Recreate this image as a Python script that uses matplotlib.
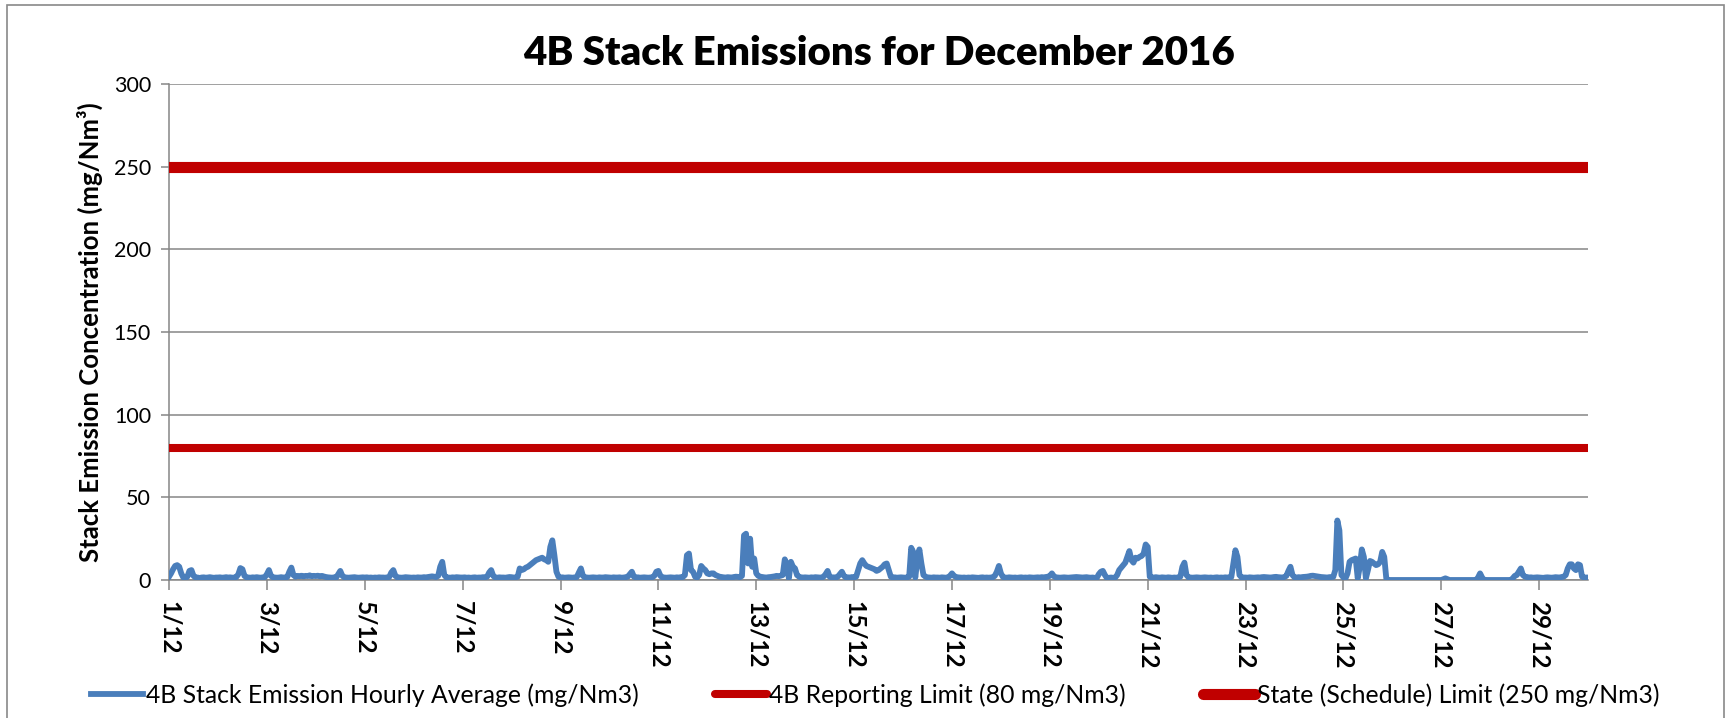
import numpy as np
import matplotlib
matplotlib.use("Agg")
import matplotlib.pyplot as plt
from matplotlib.patches import Rectangle

plt.rcParams['font.family'] = ['Lato', 'DejaVu Sans']

# hourly averages, one row per day (1/12 ... 29/12), then 30/12 00:00
emission_hourly = [
    2, 4, 6.5, 8.5, 9, 8, 4, 1.5, 1, 2, 5.5, 6, 2.5, 1.5, 1.5, 1.2, 1.5, 1.6, 1.4, 1.5, 1.7, 1.5, 1.3, 1.5,
    1.5, 1.6, 1.4, 1.5, 1.7, 1.5, 1.6, 1.4, 1.5, 1.8, 3.5, 7.2, 6.5, 2.5, 1.6, 1.5, 1.4, 1.6, 1.5, 1.7, 1.5, 1.4, 1.6, 1.8,
    3.5, 6, 2.5, 1.6, 1.5, 1.4, 1.5, 1.7, 1.5, 1.6, 1.8, 5, 7.5, 3, 2, 2.5, 2.3, 2.6, 2.2, 2.5, 2.4, 2.8, 2.3, 2.5,
    2.4, 2.6, 2.2, 2.5, 2.1, 1.8, 1.6, 1.5, 1.4, 1.6, 1.5, 3.5, 5.5, 2.5, 1.6, 1.5, 1.4, 1.5, 1.6, 1.7, 1.5, 1.4, 1.5, 1.6,
    1.5, 1.6, 1.4, 1.5, 1.3, 1.5, 1.4, 1.6, 1.5, 1.5, 1.4, 1.6, 1.8, 4.5, 6, 2.5, 1.6, 1.5, 1.4, 1.5, 1.7, 1.6, 1.5, 1.4,
    1.5, 1.4, 1.6, 1.5, 1.5, 1.7, 1.6, 1.8, 2, 2.2, 2, 1.8, 2.5, 8, 11, 3, 1.6, 1.5, 1.4, 1.6, 1.5, 1.7, 1.6, 1.5,
    1.5, 1.6, 1.4, 1.5, 1.3, 1.5, 1.6, 1.4, 1.5, 1.5, 1.7, 1.6, 2, 4.5, 6, 2.5, 1.5, 1.4, 1.6, 1.5, 1.5, 1.4, 1.6, 1.8,
    1.7, 1.5, 1.6, 2, 7, 6, 6.5, 7.5, 8, 9, 10, 11, 12, 12.5, 13, 13.5, 12.5, 12, 11, 20, 24, 15, 5, 2,
    1.5, 1.6, 1.4, 1.5, 1.6, 1.5, 1.4, 1.6, 1.8, 4.5, 7, 2.5, 1.6, 1.5, 1.4, 1.5, 1.6, 1.5, 1.4, 1.6, 1.5, 1.5, 1.7, 1.6,
    1.5, 1.4, 1.6, 1.5, 1.5, 1.6, 1.4, 1.5, 1.7, 2, 3.5, 5, 2, 1.5, 1.6, 1.4, 1.5, 1.6, 1.5, 1.4, 1.5, 1.6, 2.5, 5,
    5.5, 2.5, 1.6, 1.5, 1.4, 1.5, 1.6, 1.5, 1.4, 1.6, 1.5, 1.7, 1.8, 3, 15, 16, 6, 5, 2, 1.5, 3, 8.5, 7, 6,
    4, 3.5, 4, 4, 3, 2.5, 2, 1.8, 1.6, 1.5, 1.7, 1.6, 1.5, 1.8, 2, 1.9, 1.7, 2.5, 27, 28, 10, 25, 8, 13,
    4, 2.5, 2, 1.8, 1.6, 1.5, 1.7, 1.8, 2, 2.2, 2.5, 2.3, 2.6, 3, 12.5, 9, 1, 11, 8, 7, 3, 2, 1.6, 1.5,
    1.6, 1.5, 1.4, 1.6, 1.5, 1.7, 1.6, 1.5, 1.4, 2, 3.5, 5.5, 2, 1.5, 1.6, 1.4, 2, 3.5, 5, 2.5, 1.5, 1.6, 1.5, 1.8,
    1.5, 2, 6, 10, 12, 10, 8.5, 8, 7.5, 7, 6.5, 5.5, 6, 7, 8, 9.5, 10, 6, 2, 1.5, 1.6, 1.4, 1.5, 1.6,
    1.5, 1.4, 1.6, 2, 19.5, 17, 1.5, 12, 18.5, 10, 3, 2, 1.6, 1.5, 1.4, 1.6, 1.5, 1.5, 1.4, 1.6, 1.5, 1.4, 1.6, 2.5,
    4, 2.5, 1.8, 1.6, 1.5, 1.4, 1.5, 1.3, 1.5, 1.4, 1.6, 1.5, 1.4, 1.3, 1.5, 1.6, 1.4, 1.5, 1.4, 1.5, 1.6, 2.5, 5, 8.5,
    4, 1.8, 1.5, 1.4, 1.6, 1.5, 1.4, 1.5, 1.3, 1.5, 1.6, 1.4, 1.5, 1.4, 1.6, 1.5, 1.4, 1.5, 1.6, 1.5, 1.7, 1.6, 1.8, 2,
    2.5, 4, 2.2, 1.6, 1.5, 1.4, 1.5, 1.6, 1.5, 1.4, 1.5, 1.6, 1.7, 1.8, 1.7, 1.6, 1.5, 1.6, 1.7, 1.5, 1.4, 1.5, 1.3, 1.2,
    3.5, 5, 5.5, 3, 1.2, 1.3, 1.5, 1.3, 1.4, 3, 6, 7.5, 9, 10.5, 14, 17.5, 12, 10.5, 13.5, 13, 14, 14.5, 16, 21.5,
    20, 2, 1.6, 1.5, 1.7, 1.5, 1.4, 1.6, 1.5, 1.4, 1.6, 1.5, 1.3, 1.5, 1.4, 1.6, 2, 8, 10.5, 3, 1.6, 1.5, 1.4, 1.5,
    1.6, 1.5, 1.4, 1.5, 1.6, 1.5, 1.4, 1.5, 1.3, 1.5, 1.6, 1.4, 1.5, 1.4, 1.6, 1.5, 1.6, 1.8, 10, 18, 14, 3, 1.6, 1.5,
    1.5, 1.4, 1.6, 1.5, 1.4, 1.5, 1.6, 1.5, 1.7, 1.8, 1.7, 1.6, 1.5, 1.6, 1.8, 1.9, 1.7, 1.6, 1.5, 1.8, 2.5, 5.5, 8, 3,
    1.6, 1.5, 1.7, 1.6, 1.8, 1.9, 2, 2.2, 2.5, 2.6, 2.4, 2.2, 2, 1.8, 1.7, 1.6, 1.5, 1.7, 1.8, 1.9, 6, 36, 30, 3,
    1.5, 1, 4, 11, 12, 12.5, 13, 1, 8, 18.5, 14, 1, 6, 11.5, 11, 10, 9, 9.5, 11, 17, 14, 1, 0, 0,
    0, 0, 0, 0, 0, 0, 0, 0, 0, 0, 0, 0, 0, 0, 0, 0, 0, 0, 0, 0, 0, 0, 0, 0,
    0, 0.5, 1, 0.5, 0, 0, 0, 0, 0, 0, 0, 0, 0, 0, 0, 0, 0, 0, 1.5, 4, 1.5, 0, 0, 0,
    0, 0, 0, 0, 0, 0, 0, 0, 0, 0, 0, 1, 2.5, 3, 5, 7, 3, 2, 1.8, 1.5, 1.6, 1.4, 1.5, 1.6,
    1.5, 1.4, 1.3, 1.5, 1.6, 1.5, 1.4, 1.5, 1.7, 1.6, 1.5, 1.8, 2, 3, 7, 9.5, 9.5, 7, 6, 9.5, 9, 2, 1.5, 1.5,
    1.5,
]
reporting_limit = 80
state_limit = 250
tick_labels = ['1/12', '3/12', '5/12', '7/12', '9/12', '11/12', '13/12', '15/12',
               '17/12', '19/12', '21/12', '23/12', '25/12', '27/12', '29/12']

hours = np.arange(len(emission_hourly))

fig = plt.figure(figsize=(17.3, 7.18), dpi=100)
ax = fig.add_axes([0.0977, 0.1922, 0.8203, 0.6908])

grid_c = '#868686'
ax.plot(hours, emission_hourly, color='#4a7ebb', lw=4.2, solid_joinstyle='round',
        label='4B Stack Emission Hourly Average (mg/Nm3)', zorder=3)
ax.axhline(reporting_limit, color='#c00000', lw=5.8, solid_capstyle='round',
           label='4B Reporting Limit (80 mg/Nm3)', zorder=4)
ax.axhline(state_limit, color='#c00000', lw=8, solid_capstyle='round',
           label='State (Schedule) Limit (250 mg/Nm3)', zorder=4)

ax.set_xlim(0, len(emission_hourly) - 1)
ax.set_ylim(0, 300)
ax.set_yticks(range(0, 301, 50))
ax.set_xticks(hours[::48][:len(tick_labels)])
ax.set_xticklabels(tick_labels, rotation=270, fontweight='bold', fontsize=17.5, va='top', ha='center')
ax.tick_params(axis='y', labelsize=15.5, direction='out', length=6, width=1.1, color=grid_c, pad=7)
ax.tick_params(axis='x', direction='out', length=7, width=1.1, color=grid_c, pad=8)
ax.yaxis.grid(True, color=grid_c, lw=1.1)
ax.set_axisbelow(True)
for s in ['top', 'right']:
    ax.spines[s].set_visible(False)
for s in ['left', 'bottom']:
    ax.spines[s].set_color(grid_c)
    ax.spines[s].set_linewidth(1.1)

ax.set_title('4B Stack Emissions for December 2016', fontsize=29, fontweight='heavy', pad=14)
ax.set_ylabel('Stack Emission Concentration (mg/Nm³)', fontsize=18.5, fontweight='bold', labelpad=8)

fig.legend(loc='center', bbox_to_anchor=(0.506, 0.032), ncol=3, frameon=False, fontsize=17.8,
           handlelength=2.1, handletextpad=0.1, columnspacing=3.1)

fig.patches.append(Rectangle((7 / 1730, -0.05), (1724 - 7) / 1730, 1.05 - 5 / 718,
                             transform=fig.transFigure, fill=False, edgecolor='#898989', lw=1.2))

fig.savefig('out.png', dpi=100)
